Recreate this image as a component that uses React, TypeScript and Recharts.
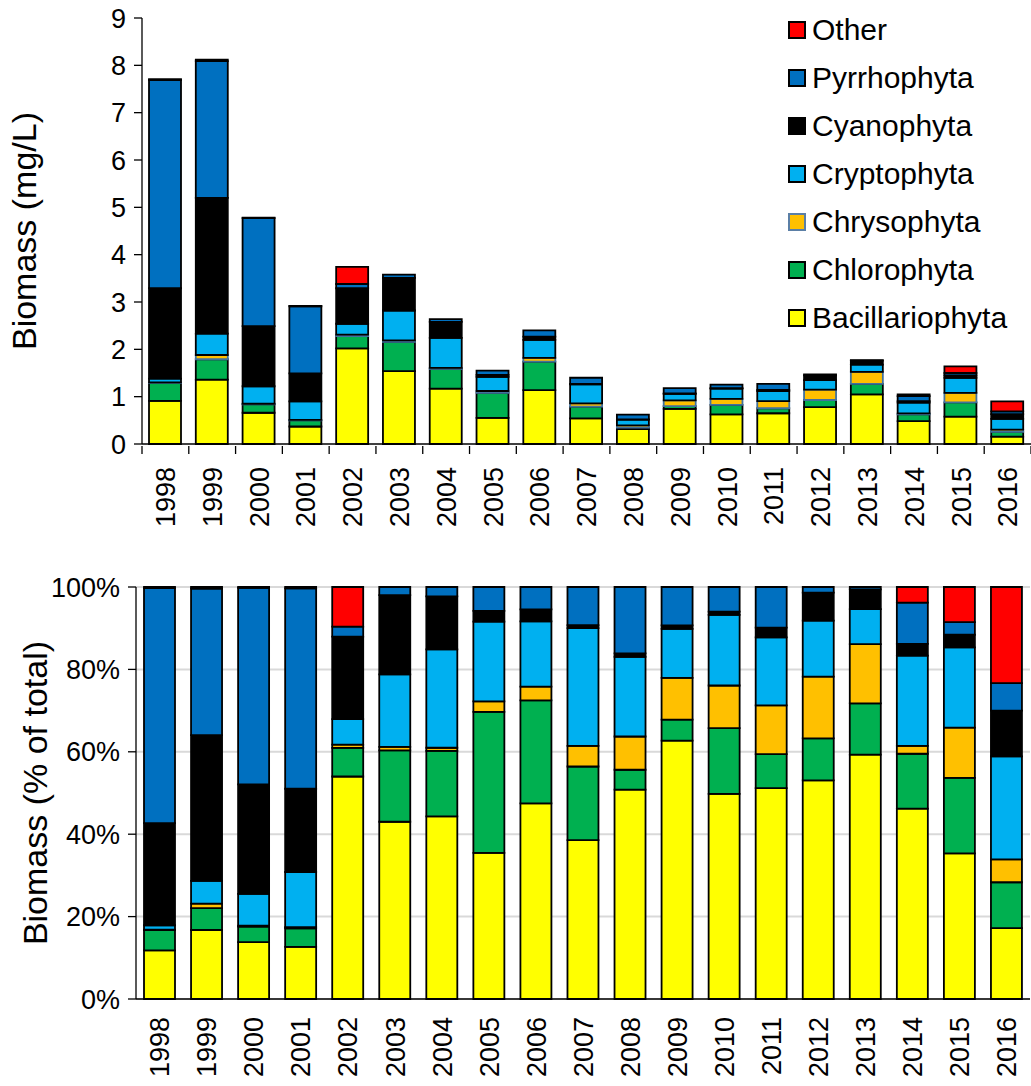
import { BarChart, Bar, XAxis, YAxis, CartesianGrid, Legend, Label } from "recharts"

const FONT = "'Liberation Sans', Arial, Helvetica, sans-serif"

// survey years
const years = [
  "1998", "1999", "2000", "2001", "2002", "2003", "2004", "2005", "2006", "2007",
  "2008", "2009", "2010", "2011", "2012", "2013", "2014", "2015", "2016",
]

// biomass by group, mg/L (split using the % panel)
const bacillariophyta = [0.91, 1.36, 0.66, 0.37, 2.02, 1.54, 1.17, 0.55, 1.14, 0.54, 0.315, 0.74, 0.625, 0.65, 0.78, 1.05, 0.485, 0.58, 0.155]
const chlorophyta     = [0.38, 0.43, 0.18, 0.13, 0.26, 0.62, 0.42, 0.53, 0.60, 0.25, 0.03, 0.06, 0.20, 0.105, 0.15, 0.22, 0.14, 0.30, 0.10]
const chrysophyta     = [0.01, 0.09, 0.01, 0.01, 0.03, 0.03, 0.02, 0.04, 0.08, 0.07, 0.05, 0.12, 0.13, 0.15, 0.22, 0.255, 0.02, 0.20, 0.05]
const cryptophyta     = [0.08, 0.45, 0.37, 0.39, 0.23, 0.63, 0.63, 0.30, 0.38, 0.40, 0.12, 0.14, 0.215, 0.21, 0.20, 0.15, 0.23, 0.32, 0.225]
const cyanophyta      = [1.91, 2.87, 1.27, 0.59, 0.75, 0.69, 0.34, 0.04, 0.07, 0.01, 0.005, 0.01, 0.01, 0.03, 0.10, 0.085, 0.03, 0.05, 0.10]
const pyrrhophyta     = [4.40, 2.89, 2.28, 1.42, 0.09, 0.07, 0.06, 0.09, 0.13, 0.13, 0.10, 0.11, 0.075, 0.125, 0.02, 0.01, 0.105, 0.05, 0.06]
const other           = [0.02, 0.03, 0.01, 0.01, 0.36, 0, 0, 0, 0, 0, 0, 0, 0, 0, 0, 0, 0.04, 0.14, 0.21]

const absTicks = [0, 1, 2, 3, 4, 5, 6, 7, 8, 9]
const pctTicks = [0, 0.2, 0.4, 0.6, 0.8, 1]

// stack order bottom -> top
const groups = [
  { key: "bacillariophyta", name: "Bacillariophyta", fill: "#FFFF00", edge: "#000000" },
  { key: "chlorophyta",     name: "Chlorophyta",     fill: "#00B050", edge: "#000000" },
  { key: "chrysophyta",     name: "Chrysophyta",     fill: "#FFC000", edge: "#41719C" },
  { key: "cryptophyta",     name: "Cryptophyta",     fill: "#00B0F0", edge: "#000000" },
  { key: "cyanophyta",      name: "Cyanophyta",      fill: "#000000", edge: "#000000" },
  { key: "pyrrhophyta",     name: "Pyrrhophyta",     fill: "#0070C0", edge: "#000000" },
  { key: "other",           name: "Other",           fill: "#FF0000", edge: "#000000" },
]

const rows = years.map((year, i) => ({
  year,
  bacillariophyta: bacillariophyta[i],
  chlorophyta: chlorophyta[i],
  chrysophyta: chrysophyta[i],
  cryptophyta: cryptophyta[i],
  cyanophyta: cyanophyta[i],
  pyrrhophyta: pyrrhophyta[i],
  other: other[i],
}))

const tickText = { fontSize: 27, fill: "#000", fontFamily: FONT }

function YearTick(props: any) {
  const { x, y, payload, index, gap, marks } = props
  const half = payload?.offset ?? 23.4
  const ty = y + gap
  return (
    <g>
      {marks && <line x1={x - half} x2={x - half} y1={y} y2={y + 8} stroke="#000" strokeWidth={1.3} />}
      {marks && index === years.length - 1 && (
        <line x1={x + half} x2={x + half} y1={y} y2={y + 8} stroke="#000" strokeWidth={1.3} />
      )}
      <text
        x={x}
        y={ty}
        dy="0.36em"
        textAnchor="end"
        transform={`rotate(-90 ${x} ${ty})`}
        {...tickText}
      >
        {payload.value}
      </text>
    </g>
  )
}

function AxisTitle({ viewBox, text, cx }: any) {
  const cy = viewBox ? viewBox.y + viewBox.height / 2 : 0
  return (
    <text
      x={cx}
      y={cy}
      textAnchor="middle"
      dominantBaseline="central"
      transform={`rotate(-90 ${cx} ${cy})`}
      fontSize={34}
      fontFamily={FONT}
      fill="#000"
    >
      {text}
    </text>
  )
}

function GroupLegend() {
  return (
    <div style={{ fontFamily: FONT }}>
      {[...groups].reverse().map((g) => (
        <div key={g.key} style={{ display: "flex", alignItems: "center", height: 48 }}>
          <span
            style={{
              display: "inline-block",
              width: 14,
              height: 14,
              background: g.fill,
              border: `2px solid ${g.key === "chrysophyta" ? "#5B7FA6" : "#000"}`,
              marginRight: 6,
            }}
          />
          <span style={{ fontSize: 30, color: "#000", lineHeight: "48px" }}>{g.name}</span>
        </div>
      ))}
    </div>
  )
}

export default function App() {
  return (
    <div style={{ position: "absolute", left: 0, top: 0, width: 1031, height: 1086, background: "#fff" }}>
      <div style={{ position: "absolute", left: 0, top: 0 }}>
        <BarChart width={1031} height={540} data={rows} margin={{ top: 18, right: 0, bottom: 0, left: 0 }}>
          <XAxis
            dataKey="year"
            interval={0}
            height={96}
            tickSize={0}
            tickLine={false}
            axisLine={{ stroke: "#000", strokeWidth: 1.3 }}
            tick={(p: any) => <YearTick {...p} gap={21} marks />}
          />
          <YAxis
            type="number"
            domain={[0, 9]}
            ticks={absTicks}
            width={142}
            tickSize={8}
            tickMargin={8}
            axisLine={{ stroke: "#000", strokeWidth: 1.3 }}
            tickLine={{ stroke: "#000", strokeWidth: 1.3 }}
            tick={tickText}
          >
            <Label content={(p: any) => <AxisTitle viewBox={p.viewBox} text="Biomass (mg/L)" cx={24} />} />
          </YAxis>
          <Legend
            layout="vertical"
            align="center"
            verticalAlign="middle"
            wrapperStyle={{ top: 6, left: 788, width: 243, height: 340 }}
            content={() => <GroupLegend />}
          />
          {groups.map((g) => (
            <Bar
              key={g.key}
              dataKey={g.key}
              name={g.name}
              stackId="abs"
              fill={g.fill}
              stroke={g.edge}
              strokeWidth={1.8}
              barSize={32}
              isAnimationActive={false}
            />
          ))}
        </BarChart>
      </div>

      <div style={{ position: "absolute", left: 0, top: 560 }}>
        <BarChart
          width={1031}
          height={526}
          data={rows}
          stackOffset="expand"
          margin={{ top: 27, right: 1, bottom: 0, left: 0 }}
        >
          <CartesianGrid vertical={false} stroke="#D9D9D9" strokeWidth={2} />
          <XAxis
            dataKey="year"
            interval={0}
            height={87}
            tickSize={0}
            tickLine={false}
            axisLine={{ stroke: "#000", strokeWidth: 1.3 }}
            tick={(p: any) => <YearTick {...p} gap={16} marks={false} />}
          />
          <YAxis
            type="number"
            domain={[0, 1]}
            ticks={pctTicks}
            width={136}
            tickSize={8}
            tickMargin={8}
            tickFormatter={(v: number) => `${Math.round(v * 100)}%`}
            axisLine={{ stroke: "#000", strokeWidth: 1.3 }}
            tickLine={{ stroke: "#000", strokeWidth: 1.3 }}
            tick={tickText}
          >
            <Label content={(p: any) => <AxisTitle viewBox={p.viewBox} text="Biomass (% of total)" cx={35} />} />
          </YAxis>
          {groups.map((g) => (
            <Bar
              key={g.key}
              dataKey={g.key}
              name={g.name}
              stackId="pct"
              fill={g.fill}
              stroke="#000"
              strokeWidth={1.8}
              barSize={31}
              isAnimationActive={false}
            />
          ))}
        </BarChart>
      </div>
    </div>
  )
}
